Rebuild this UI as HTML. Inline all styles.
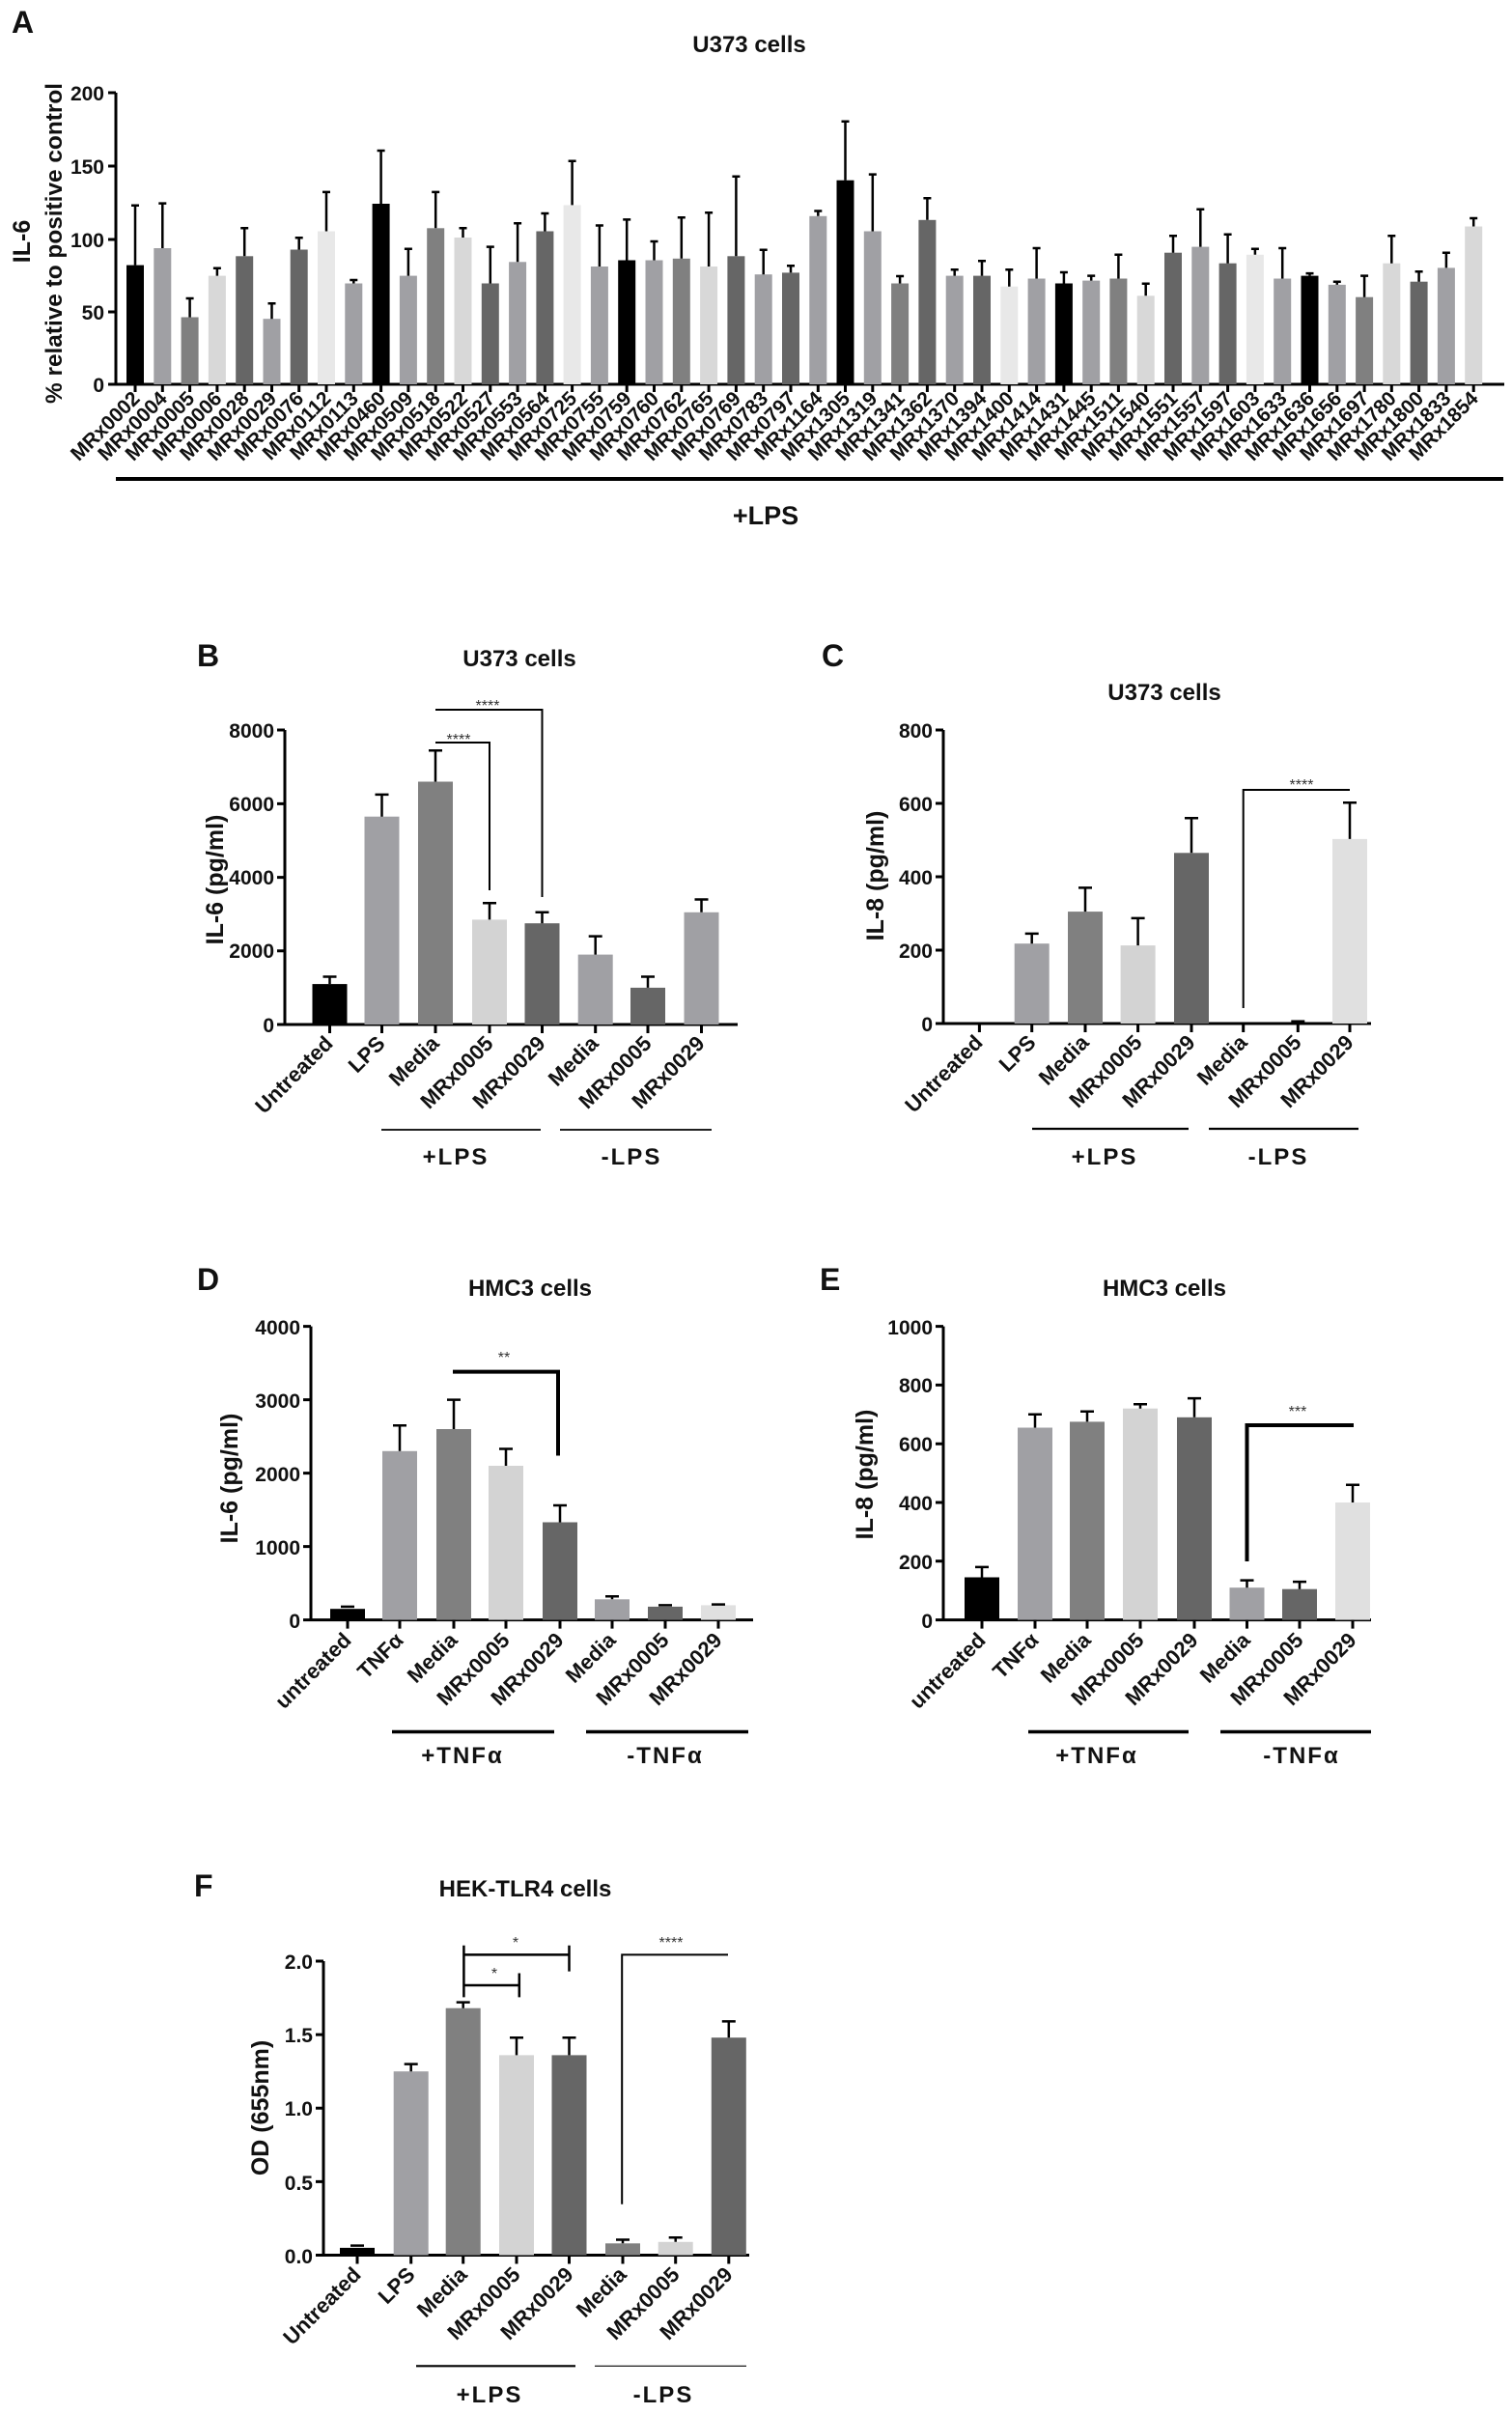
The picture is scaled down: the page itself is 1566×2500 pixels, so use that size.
<!DOCTYPE html>
<html><head><meta charset="utf-8"><style>
html,body{margin:0;padding:0;background:#fff}
svg{display:block}
text{font-family:"Liberation Sans",Arial,sans-serif;font-weight:bold;fill:#111}
.t{font-size:21px;text-anchor:end}
.c{font-size:22px;text-anchor:end}
.ca{font-size:21px;text-anchor:end}
.ti{font-size:24px;text-anchor:middle}
.pl{font-size:32px}
.yl{font-size:25px;text-anchor:middle}
.gl{font-size:24px;text-anchor:middle;letter-spacing:2px}
.st{font-size:16px;text-anchor:middle;font-weight:normal;fill:#333}
.ax{stroke:#000;stroke-width:3;fill:none}
.e{stroke:#000;stroke-width:2.5;fill:none}
.s{stroke:#000;stroke-width:2;fill:none}
.sb{stroke:#000;stroke-width:4;fill:none}
</style></head><body>
<svg width="1566" height="2500" viewBox="0 0 1566 2500" xmlns="http://www.w3.org/2000/svg">

<!-- ============ PANEL A ============ -->
<text class="pl" x="12" y="34">A</text>
<text class="ti" x="776" y="54">U373 cells</text>
<text class="yl" transform="translate(31,250) rotate(-90)">IL-6</text>
<text class="yl" transform="translate(64,252) rotate(-90)" textLength="332" lengthAdjust="spacingAndGlyphs" style="font-size:24px">% relative to positive control</text>
<g class="ax"><path d="M120 96 V398 H1558"/><path d="M112 96H120M112 172H120M112 248H120M112 323H120M112 398H120"/></g>
<text class="t" x="108" y="104">200</text>
<text class="t" x="108" y="180">150</text>
<text class="t" x="108" y="256">100</text>
<text class="t" x="108" y="331">50</text>
<text class="t" x="108" y="406">0</text>

<g id="barsA">
<rect x="131" y="274.6" width="18" height="123.4" fill="#000"/><path class="e" d="M140 274.6V212.8M136 212.8H144"/>
<rect x="159.3" y="257" width="18" height="141" fill="#a0a0a4"/><path class="e" d="M168.3 257V210.6M164.3 210.6H172.3"/>
<rect x="187.6" y="328.5" width="18" height="69.5" fill="#808080"/><path class="e" d="M196.6 328.5V309M192.6 309H200.6"/>
<rect x="215.9" y="285.6" width="18" height="112.4" fill="#d8d8d8"/><path class="e" d="M224.9 285.6V277.7M220.9 277.7H228.9"/>
<rect x="244.2" y="265.3" width="18" height="132.7" fill="#666"/><path class="e" d="M253.2 265.3V236.3M249.2 236.3H257.2"/>
<rect x="272.5" y="330.2" width="18" height="67.8" fill="#a0a0a4"/><path class="e" d="M281.5 330.2V314.2M277.5 314.2H285.5"/>
<rect x="300.7" y="258.5" width="18" height="139.5" fill="#666"/><path class="e" d="M309.7 258.5V246.3M305.7 246.3H313.7"/>
<rect x="329" y="239.5" width="18" height="158.5" fill="#e8e8e8"/><path class="e" d="M338 239.5V198.9M334 198.9H342"/>
<rect x="357.3" y="293.5" width="18" height="104.5" fill="#a0a0a4"/><path class="e" d="M366.3 293.5V290M362.3 290H370.3"/>
<rect x="385.6" y="211" width="18" height="187" fill="#000"/><path class="e" d="M394.6 211V156M390.6 156H398.6"/>
<rect x="413.9" y="285.6" width="18" height="112.4" fill="#a0a0a4"/><path class="e" d="M422.9 285.6V257.8M418.9 257.8H426.9"/>
<rect x="442.2" y="236.3" width="18" height="161.7" fill="#808080"/><path class="e" d="M451.2 236.3V198.9M447.2 198.9H455.2"/>
<rect x="470.5" y="246" width="18" height="152" fill="#d8d8d8"/><path class="e" d="M479.5 246V236.3M475.5 236.3H483.5"/>
<rect x="498.8" y="293.5" width="18" height="104.5" fill="#666"/><path class="e" d="M507.8 293.5V255.6M503.8 255.6H511.8"/>
<rect x="527.1" y="271.3" width="18" height="126.7" fill="#a0a0a4"/><path class="e" d="M536.1 271.3V231.3M532.1 231.3H540.1"/>
<rect x="555.4" y="239.5" width="18" height="158.5" fill="#666"/><path class="e" d="M564.4 239.5V221M560.4 221H568.4"/>
<rect x="583.6" y="212.4" width="18" height="185.6" fill="#e8e8e8"/><path class="e" d="M592.6 212.4V166.7M588.6 166.7H596.6"/>
<rect x="611.9" y="276" width="18" height="122" fill="#a0a0a4"/><path class="e" d="M620.9 276V233.5M616.9 233.5H624.9"/>
<rect x="640.2" y="269.5" width="18" height="128.5" fill="#000"/><path class="e" d="M649.2 269.5V227.4M645.2 227.4H653.2"/>
<rect x="668.5" y="269.5" width="18" height="128.5" fill="#a0a0a4"/><path class="e" d="M677.5 269.5V250M673.5 250H681.5"/>
<rect x="696.8" y="267.8" width="18" height="130.2" fill="#808080"/><path class="e" d="M705.8 267.8V225.3M701.8 225.3H709.8"/>
<rect x="725.1" y="276" width="18" height="122" fill="#d8d8d8"/><path class="e" d="M734.1 276V220.3M730.1 220.3H738.1"/>
<rect x="753.4" y="265.3" width="18" height="132.7" fill="#666"/><path class="e" d="M762.4 265.3V182.8M758.4 182.8H766.4"/>
<rect x="781.7" y="284.2" width="18" height="113.8" fill="#a0a0a4"/><path class="e" d="M790.7 284.2V258.8M786.7 258.8H794.7"/>
<rect x="810" y="282.4" width="18" height="115.6" fill="#666"/><path class="e" d="M819 282.4V275.2M815 275.2H823"/>
<rect x="838.3" y="223.8" width="18" height="174.2" fill="#a0a0a4"/><path class="e" d="M847.3 223.8V218.5M843.3 218.5H851.3"/>
<rect x="866.5" y="186.7" width="18" height="211.3" fill="#000"/><path class="e" d="M875.5 186.7V125.7M871.5 125.7H879.5"/>
<rect x="894.8" y="239.5" width="18" height="158.5" fill="#a0a0a4"/><path class="e" d="M903.8 239.5V180.6M899.8 180.6H907.8"/>
<rect x="923.1" y="293.5" width="18" height="104.5" fill="#808080"/><path class="e" d="M932.1 293.5V286M928.1 286H936.1"/>
<rect x="951.4" y="227.8" width="18" height="170.2" fill="#666"/><path class="e" d="M960.4 227.8V205.3M956.4 205.3H964.4"/>
<rect x="979.7" y="285.6" width="18" height="112.4" fill="#a0a0a4"/><path class="e" d="M988.7 285.6V279.2M984.7 279.2H992.7"/>
<rect x="1008" y="285.6" width="18" height="112.4" fill="#666"/><path class="e" d="M1017 285.6V270.2M1013 270.2H1021"/>
<rect x="1036.3" y="296.7" width="18" height="101.3" fill="#e8e8e8"/><path class="e" d="M1045.3 296.7V279.2M1041.3 279.2H1049.3"/>
<rect x="1064.6" y="288.5" width="18" height="109.5" fill="#a0a0a4"/><path class="e" d="M1073.6 288.5V257M1069.6 257H1077.6"/>
<rect x="1092.9" y="293.5" width="18" height="104.5" fill="#000"/><path class="e" d="M1101.9 293.5V282M1097.9 282H1105.9"/>
<rect x="1121.2" y="290.6" width="18" height="107.4" fill="#a0a0a4"/><path class="e" d="M1130.2 290.6V285.6M1126.2 285.6H1134.2"/>
<rect x="1149.4" y="288.5" width="18" height="109.5" fill="#808080"/><path class="e" d="M1158.4 288.5V263.8M1154.4 263.8H1162.4"/>
<rect x="1177.7" y="306.3" width="18" height="91.7" fill="#d8d8d8"/><path class="e" d="M1186.7 306.3V293.8M1182.7 293.8H1190.7"/>
<rect x="1206" y="261.7" width="18" height="136.3" fill="#666"/><path class="e" d="M1215 261.7V244.2M1211 244.2H1219"/>
<rect x="1234.3" y="255.6" width="18" height="142.4" fill="#a0a0a4"/><path class="e" d="M1243.3 255.6V216.7M1239.3 216.7H1247.3"/>
<rect x="1262.6" y="272.7" width="18" height="125.3" fill="#666"/><path class="e" d="M1271.6 272.7V242.8M1267.6 242.8H1275.6"/>
<rect x="1290.9" y="263.8" width="18" height="134.2" fill="#e8e8e8"/><path class="e" d="M1299.9 263.8V257.8M1295.9 257.8H1303.9"/>
<rect x="1319.2" y="288.5" width="18" height="109.5" fill="#a0a0a4"/><path class="e" d="M1328.2 288.5V257M1324.2 257H1332.2"/>
<rect x="1347.5" y="285.6" width="18" height="112.4" fill="#000"/><path class="e" d="M1356.5 285.6V283.1M1352.5 283.1H1360.5"/>
<rect x="1375.8" y="294.9" width="18" height="103.1" fill="#a0a0a4"/><path class="e" d="M1384.8 294.9V291.7M1380.8 291.7H1388.8"/>
<rect x="1404.1" y="307.7" width="18" height="90.3" fill="#808080"/><path class="e" d="M1413.1 307.7V285.6M1409.1 285.6H1417.1"/>
<rect x="1432.3" y="272.7" width="18" height="125.3" fill="#d8d8d8"/><path class="e" d="M1441.3 272.7V244.2M1437.3 244.2H1445.3"/>
<rect x="1460.6" y="291.7" width="18" height="106.3" fill="#666"/><path class="e" d="M1469.6 291.7V281.3M1465.6 281.3H1473.6"/>
<rect x="1488.9" y="277.4" width="18" height="120.6" fill="#a0a0a4"/><path class="e" d="M1497.9 277.4V261.7M1493.9 261.7H1501.9"/>
<rect x="1517.2" y="234.5" width="18" height="163.5" fill="#d8d8d8"/><path class="e" d="M1526.2 234.5V226M1522.2 226H1530.2"/>
</g>
<path class="ax" d="M140 398v8M168.3 398v8M196.6 398v8M224.9 398v8M253.2 398v8M281.5 398v8M309.7 398v8M338 398v8M366.3 398v8M394.6 398v8M422.9 398v8M451.2 398v8M479.5 398v8M507.8 398v8M536.1 398v8M564.4 398v8M592.6 398v8M620.9 398v8M649.2 398v8M677.5 398v8M705.8 398v8M734.1 398v8M762.4 398v8M790.7 398v8M819 398v8M847.3 398v8M875.5 398v8M903.8 398v8M932.1 398v8M960.4 398v8M988.7 398v8M1017 398v8M1045.3 398v8M1073.6 398v8M1101.9 398v8M1130.2 398v8M1158.4 398v8M1186.7 398v8M1215 398v8M1243.3 398v8M1271.6 398v8M1299.9 398v8M1328.2 398v8M1356.5 398v8M1384.8 398v8M1413.1 398v8M1441.3 398v8M1469.6 398v8M1497.9 398v8M1526.2 398v8"/>
<g class="ca">
<text transform="translate(146,414) rotate(-45)">MRx0002</text>
<text transform="translate(174.3,414) rotate(-45)">MRx0004</text>
<text transform="translate(202.6,414) rotate(-45)">MRx0005</text>
<text transform="translate(230.9,414) rotate(-45)">MRx0006</text>
<text transform="translate(259.2,414) rotate(-45)">MRx0028</text>
<text transform="translate(287.5,414) rotate(-45)">MRx0029</text>
<text transform="translate(315.7,414) rotate(-45)">MRx0076</text>
<text transform="translate(344,414) rotate(-45)">MRx0112</text>
<text transform="translate(372.3,414) rotate(-45)">MRx0113</text>
<text transform="translate(400.6,414) rotate(-45)">MRx0460</text>
<text transform="translate(428.9,414) rotate(-45)">MRx0509</text>
<text transform="translate(457.2,414) rotate(-45)">MRx0518</text>
<text transform="translate(485.5,414) rotate(-45)">MRx0522</text>
<text transform="translate(513.8,414) rotate(-45)">MRx0527</text>
<text transform="translate(542.1,414) rotate(-45)">MRx0553</text>
<text transform="translate(570.4,414) rotate(-45)">MRx0564</text>
<text transform="translate(598.6,414) rotate(-45)">MRx0725</text>
<text transform="translate(626.9,414) rotate(-45)">MRx0755</text>
<text transform="translate(655.2,414) rotate(-45)">MRx0759</text>
<text transform="translate(683.5,414) rotate(-45)">MRx0760</text>
<text transform="translate(711.8,414) rotate(-45)">MRx0762</text>
<text transform="translate(740.1,414) rotate(-45)">MRx0765</text>
<text transform="translate(768.4,414) rotate(-45)">MRx0769</text>
<text transform="translate(796.7,414) rotate(-45)">MRx0783</text>
<text transform="translate(825,414) rotate(-45)">MRx0797</text>
<text transform="translate(853.3,414) rotate(-45)">MRx1164</text>
<text transform="translate(881.5,414) rotate(-45)">MRx1305</text>
<text transform="translate(909.8,414) rotate(-45)">MRx1319</text>
<text transform="translate(938.1,414) rotate(-45)">MRx1341</text>
<text transform="translate(966.4,414) rotate(-45)">MRx1362</text>
<text transform="translate(994.7,414) rotate(-45)">MRx1370</text>
<text transform="translate(1023,414) rotate(-45)">MRx1394</text>
<text transform="translate(1051.3,414) rotate(-45)">MRx1400</text>
<text transform="translate(1079.6,414) rotate(-45)">MRx1414</text>
<text transform="translate(1107.9,414) rotate(-45)">MRx1431</text>
<text transform="translate(1136.2,414) rotate(-45)">MRx1445</text>
<text transform="translate(1164.4,414) rotate(-45)">MRx1511</text>
<text transform="translate(1192.7,414) rotate(-45)">MRx1540</text>
<text transform="translate(1221,414) rotate(-45)">MRx1551</text>
<text transform="translate(1249.3,414) rotate(-45)">MRx1557</text>
<text transform="translate(1277.6,414) rotate(-45)">MRx1597</text>
<text transform="translate(1305.9,414) rotate(-45)">MRx1603</text>
<text transform="translate(1334.2,414) rotate(-45)">MRx1633</text>
<text transform="translate(1362.5,414) rotate(-45)">MRx1636</text>
<text transform="translate(1390.8,414) rotate(-45)">MRx1656</text>
<text transform="translate(1419.1,414) rotate(-45)">MRx1697</text>
<text transform="translate(1447.3,414) rotate(-45)">MRx1780</text>
<text transform="translate(1475.6,414) rotate(-45)">MRx1800</text>
<text transform="translate(1503.9,414) rotate(-45)">MRx1833</text>
<text transform="translate(1532.2,414) rotate(-45)">MRx1854</text>
</g>
<rect x="120" y="494" width="1437" height="4" fill="#000"/>
<text x="793" y="543" style="font-size:27px;text-anchor:middle">+LPS</text>

<!-- ============ PANEL B ============ -->
<text class="pl" x="204" y="690">B</text>
<text class="ti" x="538" y="690">U373 cells</text>
<text class="yl" transform="translate(231,911) rotate(-90)">IL-6 (pg/ml)</text>
<path class="ax" d="M295 756V1061H764M287 756H295M287 832.4H295M287 908.6H295M287 984.8H295M287 1061H295"/>
<text class="t" x="284" y="764">8000</text>
<text class="t" x="284" y="840">6000</text>
<text class="t" x="284" y="916">4000</text>
<text class="t" x="284" y="992">2000</text>
<text class="t" x="284" y="1069">0</text>
<rect x="323.5" y="1019.1" width="36" height="41.9" fill="#000"/><path class="e" d="M341.5 1019.1V1011.5M334.5 1011.5H348.5"/>
<rect x="377.5" y="845.7" width="36" height="215.3" fill="#a0a0a4"/><path class="e" d="M395.5 845.7V822.9M388.5 822.9H402.5"/>
<rect x="433" y="809.5" width="36" height="251.5" fill="#808080"/><path class="e" d="M451 809.5V777.2M444 777.2H458"/>
<rect x="489" y="952.4" width="36" height="108.6" fill="#d3d3d3"/><path class="e" d="M507 952.4V935.3M500 935.3H514"/>
<rect x="543.5" y="956.2" width="36" height="104.8" fill="#666"/><path class="e" d="M561.5 956.2V944.8M554.5 944.8H568.5"/>
<rect x="598.7" y="988.6" width="36" height="72.4" fill="#a0a0a4"/><path class="e" d="M616.7 988.6V969.6M609.7 969.6H623.7"/>
<rect x="653" y="1022.9" width="36" height="38.1" fill="#666"/><path class="e" d="M671 1022.9V1011.5M664 1011.5H678"/>
<rect x="708.5" y="944.8" width="36" height="116.2" fill="#a0a0a4"/><path class="e" d="M726.5 944.8V931.5M719.5 931.5H733.5"/>
<path class="ax" d="M341.5 1061v9M395.5 1061v9M451 1061v9M507 1061v9M561.5 1061v9M616.7 1061v9M671 1061v9M726.5 1061v9"/>
<path class="s" d="M451 769H507V922M451 735H561.5V929"/>
<text class="st" x="475" y="771">****</text>
<text class="st" x="505" y="736">****</text>
<g class="c">
<text transform="translate(346,1082) rotate(-45)">Untreated</text>
<text transform="translate(400,1082) rotate(-45)">LPS</text>
<text transform="translate(456,1082) rotate(-45)">Media</text>
<text transform="translate(512,1082) rotate(-45)">MRx0005</text>
<text transform="translate(566,1082) rotate(-45)">MRx0029</text>
<text transform="translate(621,1082) rotate(-45)">Media</text>
<text transform="translate(676,1082) rotate(-45)">MRx0005</text>
<text transform="translate(731,1082) rotate(-45)">MRx0029</text>
</g>
<path d="M395 1170H560M580 1170H737" stroke="#000" stroke-width="1.8"/>
<text class="gl" x="472" y="1206">+LPS</text>
<text class="gl" x="654" y="1206">-LPS</text>

<!-- ============ PANEL C ============ -->
<text class="pl" x="851" y="690">C</text>
<text class="ti" x="1206" y="725">U373 cells</text>
<text class="yl" transform="translate(915,907) rotate(-90)">IL-8 (pg/ml)</text>
<path class="ax" d="M977 756V1060H1420M969 756H977M969 832H977M969 908H977M969 984H977M969 1060H977"/>
<text class="t" x="966" y="764">800</text>
<text class="t" x="966" y="840">600</text>
<text class="t" x="966" y="916">400</text>
<text class="t" x="966" y="992">200</text>
<text class="t" x="966" y="1068">0</text>
<rect x="1050.7" y="977.2" width="36" height="82.8" fill="#a0a0a4"/><path class="e" d="M1068.7 977.2V966.9M1061.7 966.9H1075.7"/>
<rect x="1106" y="944.1" width="36" height="115.9" fill="#808080"/><path class="e" d="M1124 944.1V919.4M1117 919.4H1131"/>
<rect x="1160.6" y="979.1" width="36" height="80.9" fill="#d3d3d3"/><path class="e" d="M1178.6 979.1V950.9M1171.6 950.9H1185.6"/>
<rect x="1216" y="883.3" width="36" height="176.7" fill="#666"/><path class="e" d="M1234 883.3V847.2M1227 847.2H1241"/>
<path class="e" d="M1337.3 1057.7H1351.3"/>
<rect x="1380" y="868.9" width="36" height="191.1" fill="#e0e0e0"/><path class="e" d="M1398 868.9V831.2M1391 831.2H1405"/>
<path class="ax" d="M1014.4 1060v9M1068.7 1060v9M1124 1060v9M1178.6 1060v9M1234 1060v9M1287.7 1060v9M1344.3 1060v9M1398 1060v9"/>
<path class="s" d="M1287.7 1044V818H1398"/>
<text class="st" x="1348" y="818">****</text>
<g class="c">
<text transform="translate(1019,1081) rotate(-45)">Untreated</text>
<text transform="translate(1074,1081) rotate(-45)">LPS</text>
<text transform="translate(1129,1081) rotate(-45)">Media</text>
<text transform="translate(1184,1081) rotate(-45)">MRx0005</text>
<text transform="translate(1239,1081) rotate(-45)">MRx0029</text>
<text transform="translate(1293,1081) rotate(-45)">Media</text>
<text transform="translate(1349,1081) rotate(-45)">MRx0005</text>
<text transform="translate(1403,1081) rotate(-45)">MRx0029</text>
</g>
<path d="M1069 1169H1231M1252 1169H1407" stroke="#000" stroke-width="2.2"/>
<text class="gl" x="1144" y="1206">+LPS</text>
<text class="gl" x="1324" y="1206">-LPS</text>

<!-- ============ PANEL D ============ -->
<text class="pl" x="204" y="1336">D</text>
<text class="ti" x="549" y="1342">HMC3 cells</text>
<text class="yl" transform="translate(246,1531) rotate(-90)">IL-6 (pg/ml)</text>
<path class="ax" d="M322 1373.6V1677.6H780M314 1373.6H322M314 1449.6H322M314 1525.6H322M314 1601.6H322M314 1677.6H322"/>
<text class="t" x="311" y="1382">4000</text>
<text class="t" x="311" y="1458">3000</text>
<text class="t" x="311" y="1534">2000</text>
<text class="t" x="311" y="1610">1000</text>
<text class="t" x="311" y="1686">0</text>
<rect x="342" y="1666.2" width="36" height="11.4" fill="#000"/><path class="e" d="M353 1663.9H367"/>
<rect x="396" y="1502.8" width="36" height="174.8" fill="#a0a0a4"/><path class="e" d="M414 1502.8V1476.2M407 1476.2H421"/>
<rect x="452" y="1480" width="36" height="197.6" fill="#808080"/><path class="e" d="M470 1480V1449.6M463 1449.6H477"/>
<rect x="506" y="1518" width="36" height="159.6" fill="#d3d3d3"/><path class="e" d="M524 1518V1500.5M517 1500.5H531"/>
<rect x="562" y="1576.5" width="36" height="101.1" fill="#666"/><path class="e" d="M580 1576.5V1559M573 1559H587"/>
<rect x="616" y="1656.3" width="36" height="21.3" fill="#a0a0a4"/><path class="e" d="M634 1656.3V1653.3M627 1653.3H641"/>
<rect x="671" y="1663.9" width="36" height="13.7" fill="#666"/><path class="e" d="M682 1662.4H696"/>
<rect x="726" y="1662.4" width="36" height="15.2" fill="#e0e0e0"/><path class="e" d="M737 1661.6H751"/>
<path class="ax" d="M360 1677.6v9M414 1677.6v9M470 1677.6v9M524 1677.6v9M580 1677.6v9M634 1677.6v9M689 1677.6v9M744 1677.6v9"/>
<path class="sb" d="M469 1420.6H578V1507.5"/>
<text class="st" x="522" y="1411">**</text>
<g class="c">
<text transform="translate(365,1700) rotate(-45)">untreated</text>
<text transform="translate(419,1700) rotate(-45)">TNFα</text>
<text transform="translate(475,1700) rotate(-45)">Media</text>
<text transform="translate(529,1700) rotate(-45)">MRx0005</text>
<text transform="translate(585,1700) rotate(-45)">MRx0029</text>
<text transform="translate(639,1700) rotate(-45)">Media</text>
<text transform="translate(694,1700) rotate(-45)">MRx0005</text>
<text transform="translate(749,1700) rotate(-45)">MRx0029</text>
</g>
<path d="M406 1793.5H574M607 1793.5H775" stroke="#000" stroke-width="3.5"/>
<text class="gl" x="479" y="1826">+TNFα</text>
<text class="gl" x="689" y="1826">-TNFα</text>

<!-- ============ PANEL E ============ -->
<text class="pl" x="849" y="1336">E</text>
<text class="ti" x="1206" y="1342">HMC3 cells</text>
<text class="yl" transform="translate(904,1527) rotate(-90)">IL-8 (pg/ml)</text>
<path class="ax" d="M977 1373.6V1677.6H1420M969 1373.6H977M969 1434.4H977M969 1495.2H977M969 1556H977M969 1616.8H977M969 1677.6H977"/>
<text class="t" x="966" y="1382">1000</text>
<text class="t" x="966" y="1442">800</text>
<text class="t" x="966" y="1503">600</text>
<text class="t" x="966" y="1564">400</text>
<text class="t" x="966" y="1625">200</text>
<text class="t" x="966" y="1686">0</text>
<rect x="999" y="1633.5" width="36" height="44.1" fill="#000"/><path class="e" d="M1017 1633.5V1622.9M1010 1622.9H1024"/>
<rect x="1054" y="1478.5" width="36" height="199.1" fill="#a0a0a4"/><path class="e" d="M1072 1478.5V1464.8M1065 1464.8H1079"/>
<rect x="1108" y="1472.4" width="36" height="205.2" fill="#808080"/><path class="e" d="M1126 1472.4V1461.8M1119 1461.8H1133"/>
<rect x="1163" y="1458.7" width="36" height="218.9" fill="#d3d3d3"/><path class="e" d="M1181 1458.7V1454.2M1174 1454.2H1188"/>
<rect x="1219" y="1467.8" width="36" height="209.8" fill="#666"/><path class="e" d="M1237 1467.8V1448.1M1230 1448.1H1244"/>
<rect x="1273.5" y="1644.2" width="36" height="33.4" fill="#a0a0a4"/><path class="e" d="M1291.5 1644.2V1636.6M1284.5 1636.6H1298.5"/>
<rect x="1328" y="1645.7" width="36" height="31.9" fill="#666"/><path class="e" d="M1346 1645.7V1638.1M1339 1638.1H1353"/>
<rect x="1383" y="1556" width="36" height="121.6" fill="#e0e0e0"/><path class="e" d="M1401 1556V1537.8M1394 1537.8H1408"/>
<path class="ax" d="M1017 1677.6v9M1072 1677.6v9M1126 1677.6v9M1181 1677.6v9M1237 1677.6v9M1291.5 1677.6v9M1346 1677.6v9M1401 1677.6v9"/>
<path class="sb" d="M1291.5 1617V1476H1402"/>
<text class="st" x="1344" y="1467">***</text>
<g class="c">
<text transform="translate(1022,1700) rotate(-45)">untreated</text>
<text transform="translate(1077,1700) rotate(-45)">TNFα</text>
<text transform="translate(1131,1700) rotate(-45)">Media</text>
<text transform="translate(1186,1700) rotate(-45)">MRx0005</text>
<text transform="translate(1242,1700) rotate(-45)">MRx0029</text>
<text transform="translate(1296,1700) rotate(-45)">Media</text>
<text transform="translate(1351,1700) rotate(-45)">MRx0005</text>
<text transform="translate(1406,1700) rotate(-45)">MRx0029</text>
</g>
<path d="M1065 1793.5H1231M1264 1793.5H1420" stroke="#000" stroke-width="3.5"/>
<text class="gl" x="1136" y="1826">+TNFα</text>
<text class="gl" x="1348" y="1826">-TNFα</text>

<!-- ============ PANEL F ============ -->
<text class="pl" x="201" y="1964">F</text>
<text class="ti" x="544" y="1964">HEK-TLR4 cells</text>
<text class="yl" transform="translate(278,2183) rotate(-90)">OD (655nm)</text>
<path class="ax" d="M335 2031V2335.5H776M327 2031H335M327 2107.1H335M327 2183.3H335M327 2259.4H335M327 2335.5H335"/>
<text class="t" x="324" y="2039">2.0</text>
<text class="t" x="324" y="2115">1.5</text>
<text class="t" x="324" y="2191">1.0</text>
<text class="t" x="324" y="2268">0.5</text>
<text class="t" x="324" y="2344">0.0</text>
<rect x="352" y="2327.9" width="36" height="7.6" fill="#000"/><path class="e" d="M363 2325.6H377"/>
<rect x="407.7" y="2145.2" width="36" height="190.3" fill="#a0a0a4"/><path class="e" d="M425.7 2145.2V2137.6M418.7 2137.6H432.7"/>
<rect x="461.7" y="2079.7" width="36" height="255.8" fill="#808080"/><path class="e" d="M479.7 2079.7V2073.6M472.7 2073.6H486.7"/>
<rect x="517" y="2128.4" width="36" height="207.1" fill="#d3d3d3"/><path class="e" d="M535 2128.4V2110.2M528 2110.2H542"/>
<rect x="571.5" y="2128.4" width="36" height="207.1" fill="#666"/><path class="e" d="M589.5 2128.4V2110.2M582.5 2110.2H596.5"/>
<rect x="627" y="2323.3" width="36" height="12.2" fill="#808080"/><path class="e" d="M645 2323.3V2319.5M638 2319.5H652"/>
<rect x="681.7" y="2321.8" width="36" height="13.7" fill="#d3d3d3"/><path class="e" d="M699.7 2321.8V2317.2M692.7 2317.2H706.7"/>
<rect x="736.8" y="2110.2" width="36" height="225.3" fill="#666"/><path class="e" d="M754.8 2110.2V2093.4M747.8 2093.4H761.8"/>
<path class="ax" d="M370 2335.5v9M425.7 2335.5v9M479.7 2335.5v9M535 2335.5v9M589.5 2335.5v9M645 2335.5v9M699.7 2335.5v9M754.8 2335.5v9"/>
<path class="s" d="M480.4 2014.8V2068.4M480.4 2024.4H589.5M589.5 2014.8V2041.6M480.4 2056H537.8M537.8 2043.5V2068.4" style="stroke-width:2.5"/>
<path class="s" d="M644.2 2282.7V2024.4H754"/>
<text class="st" x="534" y="2017">*</text>
<text class="st" x="512" y="2049">*</text>
<text class="st" x="695" y="2017">****</text>
<g class="c">
<text transform="translate(375,2357) rotate(-45)">Untreated</text>
<text transform="translate(431,2357) rotate(-45)">LPS</text>
<text transform="translate(485,2357) rotate(-45)">Media</text>
<text transform="translate(540,2357) rotate(-45)">MRx0005</text>
<text transform="translate(595,2357) rotate(-45)">MRx0029</text>
<text transform="translate(650,2357) rotate(-45)">Media</text>
<text transform="translate(705,2357) rotate(-45)">MRx0005</text>
<text transform="translate(760,2357) rotate(-45)">MRx0029</text>
</g>
<path d="M431 2450.3H596" stroke="#000" stroke-width="2.2"/>
<path d="M616 2450.3H773" stroke="#000" stroke-width="1.2"/>
<text class="gl" x="507" y="2488">+LPS</text>
<text class="gl" x="687" y="2488">-LPS</text>
</svg>
</body></html>
